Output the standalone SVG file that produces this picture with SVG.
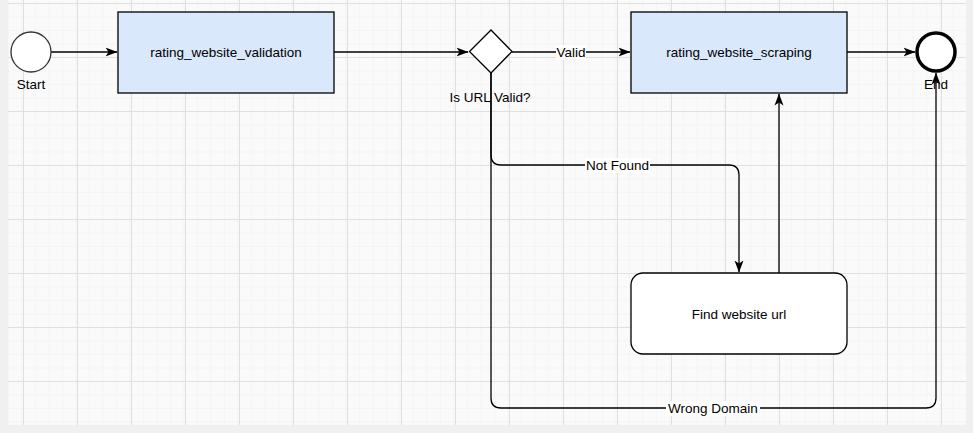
<svg xmlns="http://www.w3.org/2000/svg" width="973" height="433" viewBox="0 0 973 433">
<defs>
<pattern id="minor" x="8" y="3" width="13.5" height="13.5" patternUnits="userSpaceOnUse">
<path d="M0 0H13.5M0 0V13.5" fill="none" stroke="#efefef" stroke-width="1"/>
</pattern>
<pattern id="major" x="23" y="3" width="54" height="54" patternUnits="userSpaceOnUse">
<path d="M0 0.5H54M0.5 0V54" fill="none" stroke="#e0e0e0" stroke-width="1"/>
</pattern>
<marker id="arr" viewBox="0 0 12 12" refX="11.5" refY="6" markerWidth="12" markerHeight="12" markerUnits="userSpaceOnUse" orient="auto">
<path d="M0 1.5L12 6L0 10.5L3 6Z" fill="#000"/>
</marker>
</defs>
<style>
text{font-family:"Liberation Sans",Arial,sans-serif;font-size:13.5px;fill:#000;}
.edge{fill:none;stroke:#000;stroke-width:1.3;}
.task{fill:#dae8fc;stroke:#000;stroke-width:1.3;}
.lbl{fill:#fff;}
</style>
<rect width="973" height="433" fill="#f0f0f0"/>
<rect x="8" y="0" width="958" height="425" fill="#fafafa"/>
<rect x="8" y="0" width="958" height="425" fill="url(#minor)"/>
<rect x="8" y="0" width="958" height="425" fill="url(#major)"/>

<g id="connectors">
<path class="edge" d="M51 52H117" marker-end="url(#arr)"/>
<path class="edge" d="M334 52H468" marker-end="url(#arr)"/>
<path class="edge" d="M512 52H630" marker-end="url(#arr)"/>
<path class="edge" d="M847 52H915" marker-end="url(#arr)"/>
<path class="edge" d="M491 73V155Q491 165 501 165H729Q739 165 739 175V272" marker-end="url(#arr)"/>
<path class="edge" d="M779 273V94" marker-end="url(#arr)"/>
<path class="edge" d="M491 73V398Q491 408 501 408H926Q936 408 936 398V73" marker-end="url(#arr)"/>
<rect class="lbl" x="556" y="45" width="30" height="15"/>
<text x="571" y="57" text-anchor="middle">Valid</text>
<rect class="lbl" x="585" y="158" width="65" height="15"/>
<text x="617.5" y="170" text-anchor="middle">Not Found</text>
<rect class="lbl" x="666" y="401" width="94" height="15"/>
<text x="713" y="413" text-anchor="middle">Wrong Domain</text>
</g>

<g id="start">
<circle cx="31" cy="52" r="20" fill="#fff" stroke="#333" stroke-width="1.3"/>
<text x="31" y="89" text-anchor="middle">Start</text>
</g>
<g id="rating_website_validation">
<rect class="task" x="118" y="12" width="216" height="81"/>
<text x="226" y="57" text-anchor="middle">rating_website_validation</text>
</g>
<g id="is_url_valid">
<path d="M491 30L512 51.5L491 73L469.5 51.5Z" fill="#fff" stroke="#000" stroke-width="1.3"/>
<text x="490" y="102" text-anchor="middle">Is URL Valid?</text>
</g>
<g id="rating_website_scraping">
<rect class="task" x="631" y="12" width="216" height="81"/>
<text x="739" y="57" text-anchor="middle">rating_website_scraping</text>
</g>
<g id="find_website_url">
<rect x="631" y="273" width="216" height="81" rx="12" fill="#fff" stroke="#000" stroke-width="1.3"/>
<text x="739" y="318.5" text-anchor="middle">Find website url</text>
</g>
<g id="end">
<circle cx="936" cy="52" r="19" fill="#fff" stroke="#000" stroke-width="3.5"/>
<text x="936" y="89" text-anchor="middle">End</text>
</g>
</svg>
